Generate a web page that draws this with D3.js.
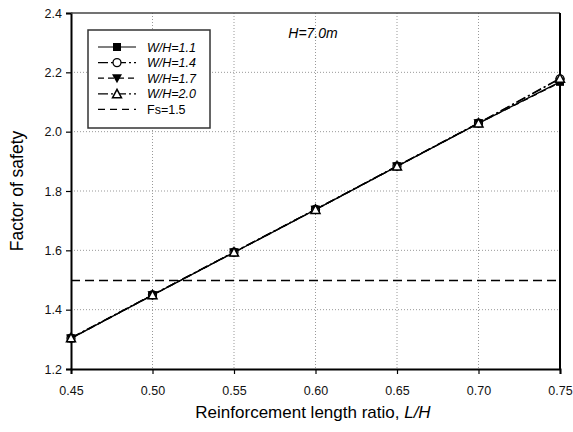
<!DOCTYPE html>
<html>
<head>
<meta charset="utf-8">
<script src="https://cdn.jsdelivr.net/npm/d3@7"></script>
<style>
  body { margin: 0; background: #fff; }
  text { font-family: Arial, "Liberation Sans", sans-serif; }
</style>
</head>
<body>
<svg width="573" height="432"></svg>
<script>
var svg = d3.select("svg");

// data
var ratios = [0.45, 0.50, 0.55, 0.60, 0.65, 0.70, 0.75];
var fsWH11 = [1.303, 1.449, 1.593, 1.737, 1.883, 2.028, 2.168];
var fsWH14 = [1.304, 1.450, 1.594, 1.738, 1.884, 2.029, 2.178];
var fsWH17 = [1.303, 1.449, 1.593, 1.737, 1.883, 2.028, 2.166];
var fsWH20 = [1.305, 1.450, 1.594, 1.738, 1.884, 2.029, 2.180];
var fsLimit = 1.5;
var xTicks = [0.45, 0.50, 0.55, 0.60, 0.65, 0.70, 0.75];
var yTicks = [1.2, 1.4, 1.6, 1.8, 2.0, 2.2, 2.4];

var series = [
  {name: "W/H=1.1", values: fsWH11, dash: null, marker: "square"},
  {name: "W/H=1.4", values: fsWH14, dash: "10,3,2,3", marker: "circle"},
  {name: "W/H=1.7", values: fsWH17, dash: "6,4", marker: "tridown"},
  {name: "W/H=2.0", values: fsWH20, dash: "10,3,2,3", marker: "triup"}
];

// plot box (avoid the name "top", it clashes with window.top)
var pL = 71, pR = 560, pT = 13, pB = 369;

var x = d3.scaleLinear().domain([0.45, 0.75]).range([pL, pR]);
var y = d3.scaleLinear().domain([1.2, 2.4]).range([pB, pT]);

// dotted grid
svg.append("g").selectAll("line")
    .data(xTicks.slice(1, -1))
    .enter().append("line")
    .attr("x1", d => x(d)).attr("x2", d => x(d))
    .attr("y1", pT).attr("y2", pB)
    .attr("stroke", "#999").attr("stroke-width", 1)
    .attr("stroke-dasharray", "1,2");

svg.append("g").selectAll("line")
    .data(yTicks.slice(1, -1))
    .enter().append("line")
    .attr("x1", pL).attr("x2", pR)
    .attr("y1", d => y(d)).attr("y2", d => y(d))
    .attr("stroke", "#999").attr("stroke-width", 1)
    .attr("stroke-dasharray", "1,2");

// axes
var xAxis = svg.append("g")
    .attr("transform", "translate(0," + pB + ")")
    .call(d3.axisBottom(x).tickValues(xTicks).tickFormat(d3.format(".2f")).tickSizeOuter(0).tickSize(5).tickPadding(12));
var yAxis = svg.append("g")
    .attr("transform", "translate(" + pL + ",0)")
    .call(d3.axisLeft(y).tickValues(yTicks).tickFormat(d3.format(".1f")).tickSizeOuter(0).tickSize(5).tickPadding(4));

[xAxis, yAxis].forEach(function(a) {
  a.select(".domain").attr("stroke", "#000").attr("stroke-width", 2);
  a.selectAll(".tick line").attr("stroke", "#000").attr("stroke-width", 1.2);
  a.selectAll("text").attr("font-size", 12.5).attr("fill", "#111")
    .style("font-family", "Arial, 'Liberation Sans', sans-serif");
});

// frame top / right
svg.append("line").attr("x1", pL).attr("x2", pR).attr("y1", pT).attr("y2", pT)
    .attr("stroke", "#444").attr("stroke-width", 1.5);
svg.append("line").attr("x1", pR).attr("x2", pR).attr("y1", pT).attr("y2", pB)
    .attr("stroke", "#000").attr("stroke-width", 2);

// Fs = 1.5 line
svg.append("line")
    .attr("x1", pL).attr("x2", pR)
    .attr("y1", Math.round(y(fsLimit)) + 0.5).attr("y2", Math.round(y(fsLimit)) + 0.5)
    .attr("stroke", "#000").attr("stroke-width", 1.3)
    .attr("stroke-dasharray", "9,5");

var line = d3.line()
    .x((d, i) => x(ratios[i]))
    .y(d => y(d));

function drawMarker(g, type, cx, cy) {
  if (type === "square") {
    g.append("rect").attr("x", cx - 4).attr("y", cy - 4).attr("width", 8).attr("height", 8)
      .attr("fill", "#000");
  } else if (type === "circle") {
    g.append("circle").attr("cx", cx).attr("cy", cy).attr("r", 4)
      .attr("fill", "#fff").attr("stroke", "#000").attr("stroke-width", 1.3);
  } else if (type === "tridown") {
    g.append("path").attr("d", "M" + (cx - 5) + "," + (cy - 4) + "L" + (cx + 5) + "," + (cy - 4) + "L" + cx + "," + (cy + 5) + "Z")
      .attr("fill", "#000");
  } else if (type === "triup") {
    g.append("path").attr("d", "M" + (cx - 4.5) + "," + (cy + 4) + "L" + (cx + 4.5) + "," + (cy + 4) + "L" + cx + "," + (cy - 4.5) + "Z")
      .attr("fill", "#fff").attr("stroke", "#000").attr("stroke-width", 1.5);
  }
}

series.forEach(function(s) {
  var g = svg.append("g");
  g.append("path")
    .datum(s.values)
    .attr("d", line)
    .attr("fill", "none")
    .attr("stroke", "#000")
    .attr("stroke-width", 1.3)
    .attr("stroke-dasharray", s.dash);
  s.values.forEach(function(v, i) {
    drawMarker(g, s.marker, x(ratios[i]), y(v));
  });
});

// legend
var lg = svg.append("g");
lg.append("rect").attr("x", 88).attr("y", 30).attr("width", 122).attr("height", 98)
    .attr("fill", "#fff").attr("stroke", "#333").attr("stroke-width", 1.5);

var legendItems = series.concat([{name: "Fs=1.5", dash: "7,5", marker: null}]);
legendItems.forEach(function(s, i) {
  var ly = 47 + i * 15.6;
  lg.append("line").attr("x1", 98).attr("x2", 136).attr("y1", ly).attr("y2", ly)
    .attr("stroke", "#000").attr("stroke-width", 1.2)
    .attr("stroke-dasharray", s.dash);
  if (s.marker) drawMarker(lg, s.marker, 117, ly);
  lg.append("text").attr("x", 147).attr("y", ly + 4.5)
    .attr("font-size", 12.5)
    .attr("font-style", s.marker ? "italic" : "normal")
    .text(s.name);
});

// annotation
svg.append("text").attr("x", 313).attr("y", 38).attr("text-anchor", "middle")
    .attr("font-size", 14).attr("font-style", "italic").text("H=7.0m");

// axis titles
var xt = svg.append("text").attr("x", 313).attr("y", 418).attr("text-anchor", "middle")
    .attr("font-size", 17);
xt.append("tspan").text("Reinforcement length ratio, ");
xt.append("tspan").attr("font-style", "italic").text("L/H");

svg.append("text")
    .attr("transform", "translate(23," + ((pT + pB) / 2) + ") rotate(-90)")
    .attr("text-anchor", "middle")
    .attr("font-size", 17.5)
    .text("Factor of safety");
</script>
</body>
</html>
